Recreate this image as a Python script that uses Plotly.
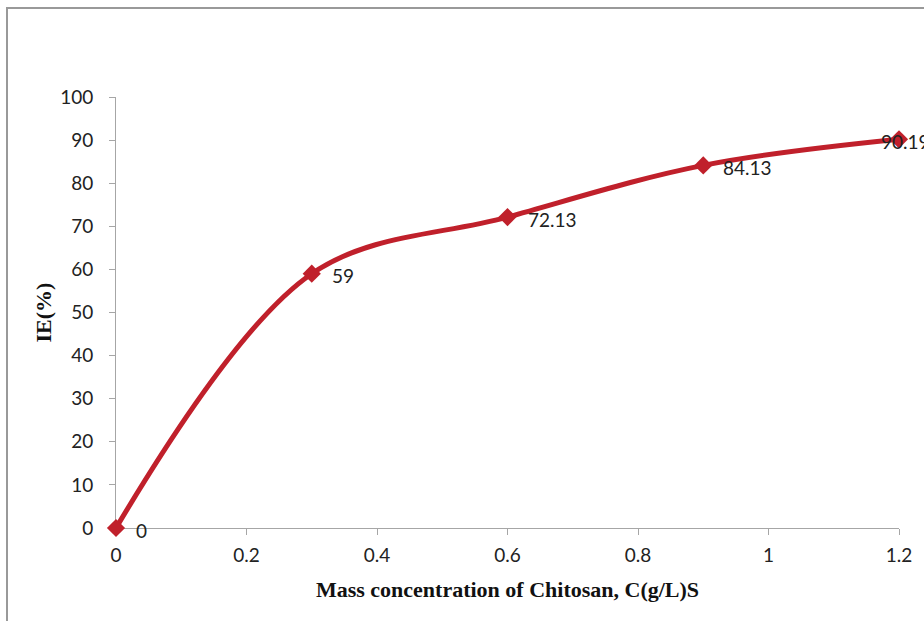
import plotly.graph_objects as go

conc = [0, 0.3, 0.6, 0.9, 1.2]
ie = [0, 59, 72.13, 84.13, 90.19]
labels = ["0", "59", "72.13", "84.13", "90.19"]
label_xshift = [18, 18, 18, 18, -20]
x_ticks = [0, 0.2, 0.4, 0.6, 0.8, 1, 1.2]
x_ticktext = ["0", "0.2", "0.4", "0.6", "0.8", "1", "1.2"]
y_ticks = list(range(0, 101, 10))

red = "#C0202B"
axis_gray = "#A6A6A6"
tick_font = dict(family="Lato, Open Sans, sans-serif", size=19, color="#222222")
title_font = dict(family="Liberation Serif, Times New Roman, serif", size=22, color="#111111")

fig = go.Figure()
fig.add_trace(go.Scatter(
    x=conc, y=ie, mode="lines+markers",
    line=dict(color=red, width=5, shape="spline", smoothing=1),
    marker=dict(symbol="diamond", size=14, color=red),
    cliponaxis=False, showlegend=False, hoverinfo="skip",
))

annotations = []
for xv, yv, t, dx in zip(conc, ie, labels, label_xshift):
    annotations.append(dict(
        x=xv, y=yv, xref="x", yref="y", text=t, showarrow=False,
        xanchor="left", yanchor="middle", xshift=dx, yshift=-2,
        font=tick_font,
    ))

fig.update_layout(
    width=924, height=621,
    margin=dict(l=116, r=25, t=97, b=93),
    paper_bgcolor="white", plot_bgcolor="white",
    annotations=annotations,
    xaxis=dict(
        range=[0, 1.2], tickvals=x_ticks, ticktext=x_ticktext,
        showgrid=False, zeroline=False, showline=True, linecolor=axis_gray, linewidth=1,
        ticks="outside", ticklen=6, tickcolor=axis_gray, tickwidth=1,
        ticklabelstandoff=4, layer="below traces",
        tickfont=tick_font,
        title=dict(text="<b>Mass concentration of Chitosan, C(g/L)S</b>",
                   font=title_font, standoff=16),
    ),
    yaxis=dict(
        range=[0, 100], tickvals=y_ticks,
        showgrid=False, zeroline=False, showline=True, linecolor=axis_gray, linewidth=1,
        ticks="outside", ticklen=6, tickcolor=axis_gray, tickwidth=1,
        ticklabelstandoff=12, layer="below traces",
        tickfont=tick_font,
        title=dict(text="<b>IE(%)</b>", font=title_font, standoff=2),
    ),
    shapes=[dict(type="rect", xref="paper", yref="paper",
                 x0=-0.1392, x1=1.2, y0=-0.4, y1=1.2065,
                 line=dict(color="#999999", width=2), layer="below")],
)

fig.write_html("out.html")
